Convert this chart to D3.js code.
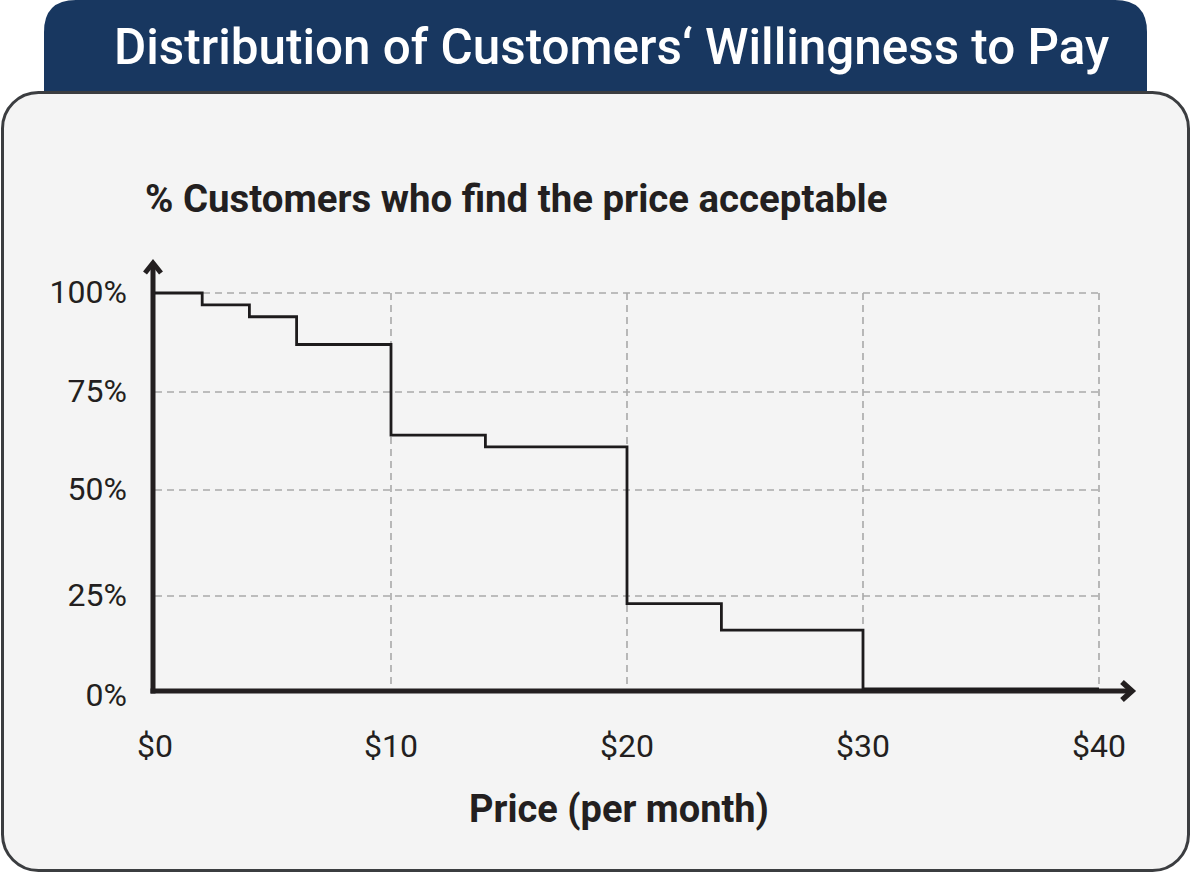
<!DOCTYPE html>
<html>
<head>
<meta charset="utf-8">
<script src="https://cdn.jsdelivr.net/npm/d3@7"></script>
<style>
  html, body { margin: 0; padding: 0; background: #ffffff; }
  svg { display: block; font-family: Roboto, "Noto Sans", sans-serif; }
</style>
</head>
<body>
<div id="chart"></div>
<script>
// data
var title = "Distribution of Customers\u2018 Willingness to Pay";
var yTitle = "% Customers who find the price acceptable";
var xTitle = "Price (per month)";
var prices = [0, 2, 4, 6, 10, 14, 20, 24, 30, 40];
var shares = [100, 97, 94, 87, 64, 61, 23, 16, 0, 0];
var xTicks = [0, 10, 20, 30, 40];
var yTicks = [0, 25, 50, 75, 100];

var W = 1191, H = 874;

var svg = d3.select("#chart")
    .append("svg")
        .attr("width", W)
        .attr("height", H);

// title banner
svg.append("path")
    .attr("d", "M44,95 L44,32 Q44,0 76,0 L1115,0 Q1147,0 1147,32 L1147,95 Z")
    .style("fill", "#183760");

svg.append("text")
    .attr("x", 114)
    .attr("y", 64)
    .style("font-size", "49.4px")
    .style("font-weight", 500)
    .style("fill", "#ffffff")
    .text(title);

// panel
svg.append("rect")
    .attr("x", 2.5)
    .attr("y", 92.5)
    .attr("width", 1186)
    .attr("height", 778)
    .attr("rx", 36)
    .attr("ry", 36)
    .style("fill", "#f4f4f4")
    .style("stroke", "#3b3d40")
    .style("stroke-width", 3);

var x = d3.scaleLinear().domain([0, 40]).range([155, 1099]);
// the drawn gridlines are not evenly spaced, so map each tick to its own spot
var y = d3.scaleLinear().domain(yTicks).range([691, 596, 490, 392, 293]);

// grid
var grid = svg.append("g")
    .style("stroke", "#a9a9a9")
    .style("stroke-width", 1.6)
    .style("stroke-dasharray", "7,5");

grid.selectAll(".hgrid")
    .data(yTicks.filter(function(d){ return d > 0; }))
    .enter()
    .append("line")
        .attr("x1", x(0))
        .attr("x2", x(40))
        .attr("y1", function(d){ return y(d); })
        .attr("y2", function(d){ return y(d); });

grid.selectAll(".vgrid")
    .data(xTicks.filter(function(d){ return d > 0; }))
    .enter()
    .append("line")
        .attr("x1", function(d){ return x(d); })
        .attr("x2", function(d){ return x(d); })
        .attr("y1", y(100))
        .attr("y2", y(0));

// axes
var axisColor = "#231f20";
svg.append("line")
    .attr("x1", x(0) - 2).attr("x2", x(0) - 2)
    .attr("y1", y(0) + 2.5).attr("y2", 264)
    .style("stroke", axisColor).style("stroke-width", 5);
svg.append("path")
    .attr("d", "M" + (x(0) - 10) + ",273 L" + (x(0) - 2) + ",263 L" + (x(0) + 6) + ",273")
    .style("fill", "none").style("stroke", axisColor).style("stroke-width", 5)
    .style("stroke-linejoin", "miter");

svg.append("line")
    .attr("x1", x(0) - 4.5).attr("x2", 1130)
    .attr("y1", y(0)).attr("y2", y(0))
    .style("stroke", axisColor).style("stroke-width", 5);
svg.append("path")
    .attr("d", "M1122,682 L1132," + y(0) + " L1122,700")
    .style("fill", "none").style("stroke", axisColor).style("stroke-width", 5.5)
    .style("stroke-linejoin", "miter");

// step line
var pts = prices.map(function(p, i){ return [p, shares[i]]; });
var line = d3.line()
    .x(function(d){ return x(d[0]); })
    .y(function(d){ return d[1] === 0 ? y(0) - 2 : y(d[1]); })
    .curve(d3.curveStepAfter);

svg.append("path")
    .datum(pts)
    .attr("d", line)
    .style("fill", "none")
    .style("stroke", "#1d1b1c")
    .style("stroke-width", 2.8);

// tick labels
svg.append("g")
    .selectAll("text")
    .data(yTicks)
    .enter()
    .append("text")
        .attr("x", 127)
        .attr("y", function(d){ return y(d) + (d === 0 ? 15 : 10); })
        .attr("text-anchor", "end")
        .style("font-size", "32px")
        .style("fill", "#231f20")
        .text(function(d){ return d + "%"; });

svg.append("g")
    .selectAll("text")
    .data(xTicks)
    .enter()
    .append("text")
        .attr("x", function(d){ return x(d); })
        .attr("y", 757)
        .attr("text-anchor", "middle")
        .style("font-size", "32px")
        .style("fill", "#231f20")
        .text(function(d){ return "$" + d; });

// axis titles
svg.append("text")
    .attr("x", 145)
    .attr("y", 212)
    .style("font-size", "38.4px")
    .style("font-weight", "bold")
    .style("fill", "#231f20")
    .text(yTitle);

svg.append("text")
    .attr("x", 619)
    .attr("y", 822)
    .attr("text-anchor", "middle")
    .style("font-size", "38px")
    .style("font-weight", "bold")
    .style("fill", "#231f20")
    .text(xTitle);
</script>
</body>
</html>
